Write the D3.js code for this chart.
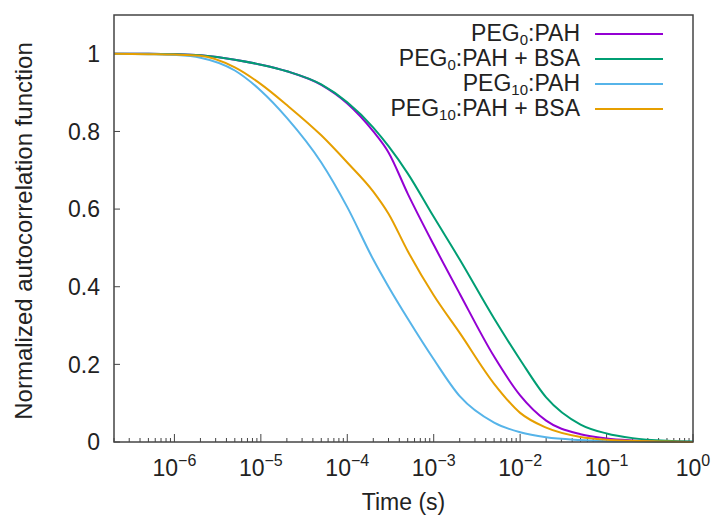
<!DOCTYPE html>
<html>
<head>
<meta charset="utf-8">
<script src="https://cdn.jsdelivr.net/npm/d3@7"></script>
<style>
  body { margin: 0; background: #fff; }
  svg { display: block; font-family: "Liberation Sans", Arial, sans-serif; }
</style>
</head>
<body>
<div id="chart"></div>
<script>
// FCS autocorrelation curves
const times = [2e-7, 5e-7, 1e-6, 2e-6, 5e-6, 1e-5, 2e-5, 5e-5, 1e-4, 2e-4, 3e-4, 5e-4,
               1e-3, 2e-3, 5e-3, 1e-2, 2e-2, 5e-2, 1e-1, 2e-1, 5e-1, 1];

const peg0Pah     = [1.0, 1.0, 0.999, 0.996, 0.985, 0.972, 0.955, 0.920, 0.872, 0.800, 0.746, 0.640,
                     0.508, 0.382, 0.220, 0.120, 0.055, 0.020, 0.009, 0.004, 0.001, 0.0];
const peg0PahBsa  = [1.0, 1.0, 0.999, 0.996, 0.985, 0.972, 0.955, 0.921, 0.875, 0.810, 0.762, 0.692,
                     0.580, 0.470, 0.318, 0.212, 0.115, 0.045, 0.022, 0.010, 0.003, 0.001];
const peg10Pah    = [1.0, 0.999, 0.997, 0.990, 0.957, 0.905, 0.835, 0.720, 0.605, 0.470, 0.400, 0.318,
                     0.213, 0.118, 0.050, 0.025, 0.012, 0.005, 0.002, 0.001, 0.0, 0.0];
const peg10PahBsa = [1.0, 0.999, 0.998, 0.995, 0.965, 0.922, 0.868, 0.790, 0.720, 0.645, 0.588, 0.492,
                     0.378, 0.281, 0.150, 0.075, 0.037, 0.013, 0.006, 0.003, 0.001, 0.0];

// legend labels: [main, subscript, rest]
const seriesNames = [
  ['PEG', '0', ':PAH'],
  ['PEG', '0', ':PAH + BSA'],
  ['PEG', '10', ':PAH'],
  ['PEG', '10', ':PAH + BSA']
];
const seriesValues = [peg0Pah, peg0PahBsa, peg10Pah, peg10PahBsa];
const seriesColors = ['#9400d3', '#009e73', '#56b4e9', '#e69f00'];

const yTicks = [0, 0.2, 0.4, 0.6, 0.8, 1];
const yTickLabels = ['0', '0.2', '0.4', '0.6', '0.8', '1'];
const xTickExps = [-6, -5, -4, -3, -2, -1, 0];

const W = 716, H = 519;
const margin = { top: 15, right: 23, bottom: 77, left: 114 };
const width = W - margin.left - margin.right;
const height = H - margin.top - margin.bottom;

const svg = d3.select('#chart').append('svg')
  .attr('width', W)
  .attr('height', H);
const g = svg.append('g')
  .attr('transform', `translate(${margin.left},${margin.top})`);

const x = d3.scaleLog().domain([2e-7, 1]).range([0, width]);
const y = d3.scaleLinear().domain([0, 1.1]).range([height, 0]);

const axisColor = '#444';
const textColor = '#222';

// y ticks (inward)
g.selectAll('.ytick')
  .data(yTicks)
  .join('line')
    .attr('x1', 0).attr('x2', 6)
    .attr('y1', d => y(d)).attr('y2', d => y(d))
    .attr('stroke', axisColor).attr('stroke-width', 1);

g.selectAll('.ylab')
  .data(yTicks)
  .join('text')
    .attr('x', -14)
    .attr('y', d => y(d))
    .attr('dy', '0.36em')
    .attr('text-anchor', 'end')
    .attr('font-size', 23)
    .attr('fill', textColor)
    .text((d, i) => yTickLabels[i]);

// x ticks: majors and log minors, inward from the bottom
const minorTicks = [];
for (let e = -7; e <= -1; e++) {
  for (let m = 2; m <= 9; m++) {
    const v = m * Math.pow(10, e);
    if (v >= 2e-7 && v < 1) minorTicks.push(v);
  }
}
g.selectAll('.xminor')
  .data(minorTicks)
  .join('line')
    .attr('x1', d => x(d)).attr('x2', d => x(d))
    .attr('y1', height).attr('y2', height - 4)
    .attr('stroke', axisColor).attr('stroke-width', 1);
g.selectAll('.xmajor')
  .data(xTickExps)
  .join('line')
    .attr('x1', d => x(Math.pow(10, d))).attr('x2', d => x(Math.pow(10, d)))
    .attr('y1', height).attr('y2', height - 8)
    .attr('stroke', axisColor).attr('stroke-width', 1);

const xlab = g.selectAll('.xlab')
  .data(xTickExps)
  .join('text')
    .attr('x', d => x(Math.pow(10, d)))
    .attr('y', height + 34)
    .attr('text-anchor', 'middle')
    .attr('font-size', 23)
    .attr('fill', textColor);
xlab.append('tspan').text('10');
xlab.append('tspan')
  .attr('dy', -10)
  .attr('font-size', 16)
  .text(d => d < 0 ? '\u2212' + (-d) : String(d));

// curves
const line = d3.line()
  .x((d, i) => x(times[i]))
  .y(d => y(d))
  .curve(d3.curveMonotoneX);

g.selectAll('.curve')
  .data(seriesValues)
  .join('path')
    .attr('d', line)
    .attr('fill', 'none')
    .attr('stroke', (d, i) => seriesColors[i])
    .attr('stroke-width', 2);

// frame
g.append('rect')
  .attr('width', width).attr('height', height)
  .attr('fill', 'none')
  .attr('stroke', axisColor)
  .attr('stroke-width', 1.5);

// legend
const legend = g.selectAll('.leg')
  .data(seriesNames)
  .join('g')
    .attr('transform', (d, i) => `translate(0,${19 + i * 25})`);
const legText = legend.append('text')
  .attr('x', 466)
  .attr('dy', '0.32em')
  .attr('text-anchor', 'end')
  .attr('font-size', 23)
  .attr('fill', textColor);
legText.append('tspan').text(d => d[0]);
legText.append('tspan').attr('dy', 4).attr('font-size', 15).text(d => d[1]);
legText.append('tspan').attr('dy', -4).text(d => d[2]);
legend.append('line')
  .attr('x1', 481).attr('x2', 549)
  .attr('stroke', (d, i) => seriesColors[i])
  .attr('stroke-width', 2);

// axis titles
g.append('text')
  .attr('x', width / 2).attr('y', height + 68)
  .attr('text-anchor', 'middle')
  .attr('font-size', 23)
  .attr('fill', textColor)
  .text('Time (s)');
g.append('text')
  .attr('transform', 'rotate(-90)')
  .attr('x', -216).attr('y', -82)
  .attr('text-anchor', 'middle')
  .attr('font-size', 24)
  .attr('fill', textColor)
  .text('Normalized autocorrelation function');
</script>
</body>
</html>
